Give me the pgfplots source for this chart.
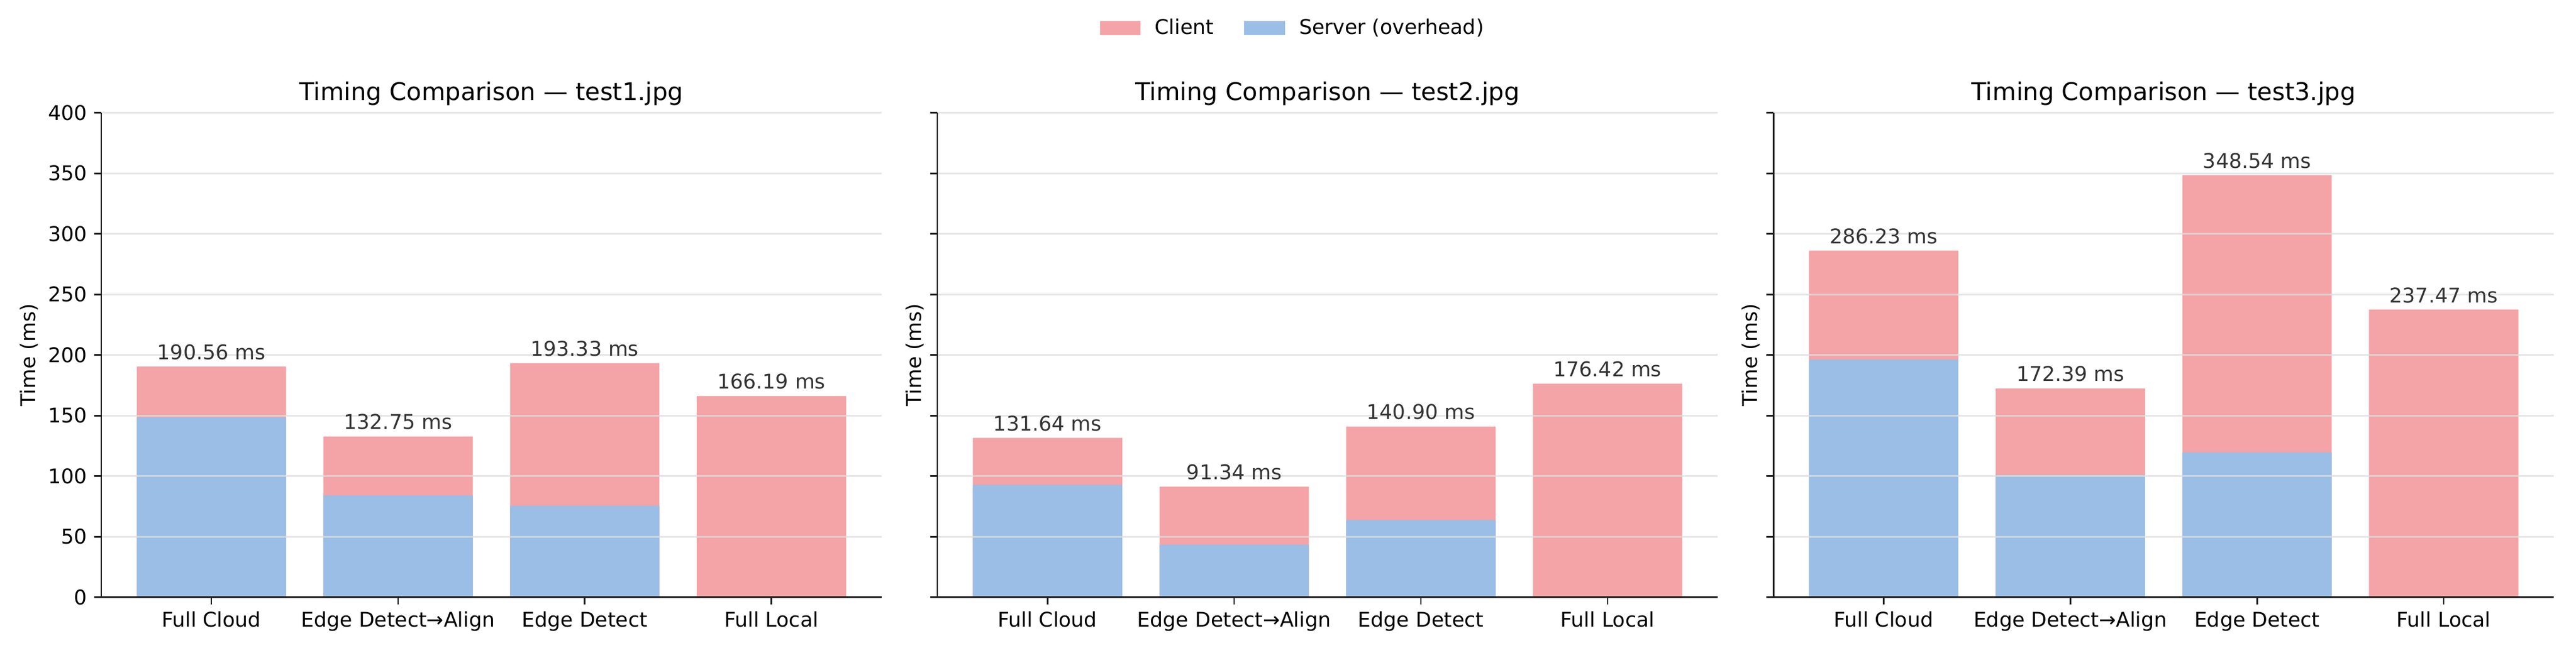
\documentclass[border=0pt]{standalone}
\usepackage{fontspec}
\setmainfont{DejaVu Sans}
\usepackage{pgfplots}
\pgfplotsset{compat=1.18}
\definecolor{clientc}{RGB}{244,163,166}
\definecolor{serverc}{RGB}{154,190,229}
\definecolor{gridc}{RGB}{221,221,221}
\definecolor{annc}{RGB}{51,51,51}
\definecolor{spinec}{RGB}{30,30,30}
\pgfplotsset{
  every axis title shift=0pt,
  tcstyle/.style={
    width=383.9pt, height=238.5pt, scale only axis,
    anchor=south west,
    ybar, bar width=0.8, bar shift=0pt,
    xmin=-0.59, xmax=3.59, ymin=0, ymax=400,
    xtick={0,1,2,3},
    xticklabels={Full Cloud, Edge Detect→Align, Edge Detect, Full Local},
    ytick={0,50,...,400},
    axis lines=left,
    axis line style={-, line width=0.8pt, draw=spinec},
    tick align=outside, major tick length=3.5pt,
    tick style={line width=0.8pt, draw=spinec},
    ymajorgrids,
    grid style={line width=0.8pt, draw=gridc, opacity=0.75},
    axis on top,
    tick label style={font=\fontsize{10}{12}\selectfont, /pgf/number format/assume math mode=true},
    title style={font=\fontsize{12}{14}\selectfont, at={(0.5,1)}, anchor=base, yshift=6pt},
    ylabel={Time (ms)},
    ylabel style={font=\fontsize{10}{12}\selectfont, anchor=center},
  },
  % total bar (client on top of server): pink bar of full height, labelled with the total
  totstyle/.style={
    fill=clientc, draw=none, forget plot,
    nodes near coords, point meta=explicit symbolic,
    every node near coord/.append style={anchor=base, inner sep=0pt, yshift=3.5pt,
      font=\fontsize{10}{12}\selectfont, text=annc},
  },
  srvstyle/.style={fill=serverc, draw=none, forget plot},
}
\begin{document}
\begin{tikzpicture}
\useasboundingbox (0,0) rectangle (1267.2pt,321.4pt);
% ---- axis 1
\begin{axis}[tcstyle, at={(49.8pt,27.4pt)},
  title={Timing Comparison — test1.jpg},
  ylabel style={at={(axis description cs:-0.0922,0.5)}}]
\addplot[totstyle] coordinates {(0,190.56) [190.56 ms] (1,132.75) [132.75 ms] (2,193.33) [193.33 ms] (3,166.19) [166.19 ms]};
\addplot[srvstyle] coordinates {(0,148.5) (1,84.2) (2,75.6) (3,0)};
\end{axis}
% ---- axis 2
\begin{axis}[tcstyle, at={(461.1pt,27.4pt)},
  title={Timing Comparison — test2.jpg},
  yticklabels={},
  ylabel style={at={(axis description cs:-0.0287,0.5)}},
  legend style={at={(0.457,1.175)}, anchor=center, draw=none, fill=none,
    legend columns=2, font=\fontsize{10}{12}\selectfont,
    /tikz/every odd column/.append style={column sep=5pt},
    /tikz/every even column/.append style={column sep=13pt}},
  legend image code/.code={\fill[#1] (0pt,-3.5pt) rectangle (20pt,3.5pt);}]
\addplot[totstyle] coordinates {(0,131.64) [131.64 ms] (1,91.34) [91.34 ms] (2,140.90) [140.90 ms] (3,176.42) [176.42 ms]};
\addplot[srvstyle] coordinates {(0,92.9) (1,43.5) (2,63.9) (3,0)};
\addlegendimage{fill=clientc, draw=none}
\addlegendentry{Client}
\addlegendimage{fill=serverc, draw=none}
\addlegendentry{Server (overhead)}
\end{axis}
% ---- axis 3
\begin{axis}[tcstyle, at={(872.4pt,27.4pt)},
  title={Timing Comparison — test3.jpg},
  yticklabels={},
  ylabel style={at={(axis description cs:-0.0287,0.5)}}]
\addplot[totstyle] coordinates {(0,286.23) [286.23 ms] (1,172.39) [172.39 ms] (2,348.54) [348.54 ms] (3,237.47) [237.47 ms]};
\addplot[srvstyle] coordinates {(0,196.3) (1,101.0) (2,119.7) (3,0)};
\end{axis}
\end{tikzpicture}
\end{document}
